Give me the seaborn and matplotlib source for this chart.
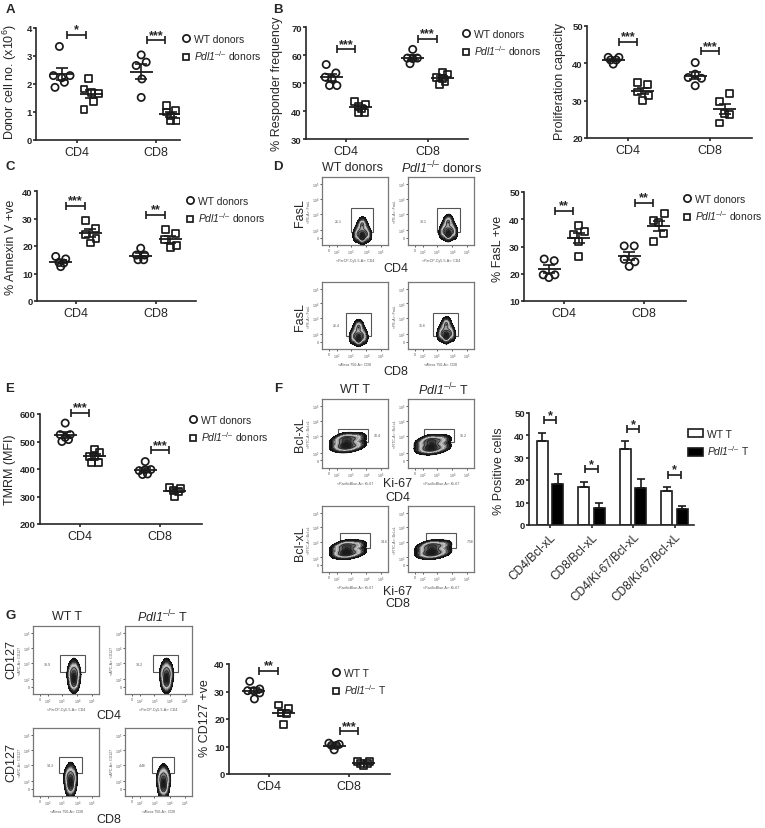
import numpy as np
import pandas as pd
import seaborn as sns
import matplotlib
matplotlib.use("Agg")
import matplotlib.pyplot as plt
from matplotlib.lines import Line2D
from matplotlib.patches import Patch, Rectangle
from matplotlib.colors import LinearSegmentedColormap

W, H = 765, 829
KO_DONORS = "$\\mathcal{Pdl1}^{\u2013/\u2013}$ donors"
KO_T = "$\\mathcal{Pdl1}^{\u2013/\u2013}$ T"

# scatter panels, values, *_DX is the sideways spread in pixels
A_WT_CD4 = [3.34, 2.3, 2.3, 2.22, 2.06, 1.88]
A_WT_CD4_DX = [-2.3, -8.3, 8.3, 0, 2.7, -6.7]
A_KO_CD4 = [2.2, 1.82, 1.7, 1.65, 1.37, 1.1]
A_KO_CD4_DX = [-3, -7.3, .3, 7, 2, -7.3]
A_WT_CD8 = [3.04, 2.78, 2.66, 2.18, 1.52]
A_WT_CD8_DX = [0, 5, -5, .7, 0]
A_KO_CD8 = [1.22, 1.04, 1.0, 0.86, 0.68, 0.68]
A_KO_CD8_DX = [-4.7, 5, -4.7, -.7, 0, 6]
B1_WT_CD4 = [56.6, 53.6, 52.1, 51.5, 49.1, 49.1]
B1_WT_CD4_DX = [-5, 4.7, -6, .7, -1.7, 5.7]
B1_KO_CD4 = [43.4, 42.5, 41.7, 41, 39.6, 39.6]
B1_KO_CD4_DX = [-6, 5, -2.7, .7, -2.7, 3.3]
B1_WT_CD8 = [62, 58.9, 58.9, 58.7, 56.9]
B1_WT_CD8_DX = [0, 4.7, -5.3, 0, -2.7]
B1_KO_CD8 = [53.9, 53.2, 52, 51.7, 50.5, 49.6]
B1_KO_CD8_DX = [0, 5, -6, 0, 2.7, -2.7]
B2_WT_CD4 = [41.6, 41.6, 40.9, 40.9, 39.8]
B2_WT_CD4_DX = [-5, 5.7, -2.7, 3, 0]
B2_KO_CD4 = [34.9, 34.3, 32.3, 31.4, 30]
B2_KO_CD4_DX = [-5, 5, -5.7, 5.3, 0]
B2_WT_CD8 = [40.2, 37.1, 36.2, 36, 34]
B2_WT_CD8_DX = [0, 0, -7, 6.3, 0]
B2_KO_CD8 = [32, 29.8, 26.5, 26.3, 24]
B2_KO_CD8_DX = [5, -5, -.7, 5, -5]
C_WT_CD4 = [16.2, 15.3, 14, 13.8, 12.5]
C_WT_CD4_DX = [-5, 5, -1.7, 3, 0]
C_KO_CD4 = [29.2, 26.4, 24.1, 22.8, 21.1]
C_KO_CD4_DX = [-4.7, 5, -5, 5.7, 0]
C_WT_CD8 = [19.2, 16.7, 16.7, 15, 15]
C_WT_CD8_DX = [0, 4, -4.3, -2.7, 3]
C_KO_CD8 = [25.9, 24.4, 22.5, 20.1, 19.5]
C_KO_CD8_DX = [-4.7, 5, -5.7, 6, 0]
D_WT_CD4 = [25.4, 24.8, 19.6, 19.6, 18.6]
D_WT_CD4_DX = [-5, 5, -6, 5.7, -.3]
D_KO_CD4 = [37.6, 35.4, 34.5, 31.7, 26.2]
D_KO_CD4_DX = [0, 5.7, -5.3, 0, 0]
D_WT_CD8 = [30.2, 30.2, 25.3, 24.4, 22.7]
D_WT_CD8_DX = [-5, 5, -5, 5.7, 0]
D_KO_CD8 = [42.2, 39.4, 38.8, 34.9, 31.7]
D_KO_CD8_DX = [5.3, -5.7, -.7, 5, -5]
E_WT_CD4 = [567, 525, 525, 515, 507, 500]
E_WT_CD4_DX = [0, -5, 5, 0, 3.3, -3.3]
E_KO_CD4 = [473, 461, 446, 446, 425, 425]
E_KO_CD4_DX = [0, 5, -5.7, 0, -3.3, 3.3]
E_WT_CD8 = [427, 398, 397, 394, 382, 380]
E_WT_CD8_DX = [0, 5.7, 0, -6, 2.3, -2.7]
E_KO_CD8 = [334, 328, 322, 318, 301]
E_KO_CD8_DX = [-5.7, 5.7, -1.7, 3.3, 0]
G_WT_CD4 = [33.7, 30.9, 30.3, 30.3, 29.5, 27.3]
G_WT_CD4_DX = [-4, 6, -6, 0, 6, .7]
G_KO_CD4 = [25.1, 23.7, 22.2, 21.9, 17.9]
G_KO_CD4_DX = [-4.7, 5, -2.3, 3.3, .3]
G_WT_CD8 = [11.2, 10.8, 10.4, 10.4, 8.8]
G_WT_CD8_DX = [-5.3, 5, -2.7, 2.3, 0]
G_KO_CD8 = [4.6, 4.6, 3.7, 3.7, 2.9]
G_KO_CD8_DX = [-6, 5.7, -3.3, 3.3, 0]

# bar panel F
F_GROUPS = ["CD4/Bcl-xL", "CD8/Bcl-xL", "CD4/Ki-67/Bcl-xL", "CD8/Ki-67/Bcl-xL"]
F_WT = [37.5, 17, 34, 15.2]
F_KO = [18.5, 7.5, 16.5, 7]
F_WT_ERR = [3.7, 2.3, 3.5, 1.8]
F_KO_ERR = [4.2, 2.1, 4, 1.7]
F_BRACKET = [46.7, 25, 42.7, 22.4]

# points that give the outline of the flow plot density clouds
FASL_X = [.53, .61, .69, .54, .68, .61, .61, .61, .57, .65, .60, .62]
FASL_Y = [.13, .10, .13, .18, .18, .13, .14, .15, .24, .24, .30, .32]
BCL_X = [.24, .24, .32, .32, .38, .38, .38, .38, .46, .46, .55, .55]
BCL_Y = [.29, .37, .28, .41, .28, .34, .34, .42, .29, .41, .32, .42]
CD127_X = [.62, .58, .66, .56, .68, .62, .62, .62, .58, .66, .62]
CD127_Y = [.12, .16, .16, .28, .28, .22, .24, .28, .36, .36, .41]

sns.set_theme(style="ticks")
plt.rcParams["font.family"] = ["Liberation Sans", "DejaVu Sans"]
plt.rcParams["mathtext.fontset"] = "custom"
plt.rcParams["mathtext.rm"] = "Liberation Sans"
plt.rcParams["mathtext.it"] = "Liberation Sans:italic"
plt.rcParams["mathtext.cal"] = "Liberation Sans:italic"
plt.rcParams["mathtext.bf"] = "Liberation Sans:bold"

fig = plt.figure(figsize=(W / 100, H / 100), dpi=100, facecolor="white")
density = LinearSegmentedColormap.from_list("dens", ["#000000", "#3a3a3a", "#cccccc", "#777777", "#3a3a3a", "#111111"])


def new_axes(l, t, r, b):
    return fig.add_axes([l / W, 1 - b / H, (r - l) / W, (b - t) / H])


def ftext(x, y, s, **kw):
    kw.setdefault("ha", "center")
    kw.setdefault("va", "center")
    kw.setdefault("fontsize", 9)
    fig.text(x / W, 1 - y / H, s, **kw)


def style_axes(ax, yticks, box, ylabel, label_xy):
    ax.set_ylim(yticks[0], yticks[-1])
    ax.set_yticks(yticks)
    sns.despine(ax=ax)
    for side in ("left", "bottom"):
        ax.spines[side].set_linewidth(1.2)
    ax.tick_params(axis="y", length=2.5, width=1.2, labelsize=6.8, pad=0.5)
    ax.tick_params(axis="x", length=2.5, width=1.2, labelsize=9, pad=1.5)
    for lab in ax.get_yticklabels():
        lab.set_fontweight("bold")
    ax.patch.set_alpha(0)
    ftext(label_xy[0], label_xy[1], ylabel, rotation=90)


def bracket(ax, x, y, half, stars):
    cont = ax.errorbar([x], [y], xerr=half, color="k", lw=1.2, capsize=2.6, capthick=1.2)
    for art in list(cont.lines[1]) + list(cont.lines[2]):
        art.set_clip_on(False)
    ax.annotate(stars, (x, y), xytext=(0, -0.5), textcoords="offset points", ha="center", va="bottom",
                fontsize=9, fontweight="bold", annotation_clip=False)


def legend(ax, cx, cy, labels):
    hs = [Line2D([], [], ls="", marker="o", ms=5.2, mfc="none", mec="k", mew=1.25),
          Line2D([], [], ls="", marker="s", ms=4.9, mfc="none", mec="k", mew=1.25)]
    ax.legend(hs, labels, loc="upper left", bbox_to_anchor=((cx - 5.1) / W, 1 - (cy - 6) / H),
              bbox_transform=fig.transFigure, frameon=False, fontsize=7.5, borderpad=0, borderaxespad=0,
              handlelength=1, handletextpad=0.28, labelspacing=0.42)


def scatter_panel(box, c0, sp, yticks, groups, brackets, ylabel, label_xy, legend_xy=None, labels=None):
    l, t, r, b = box
    ax = new_axes(*box)
    off = 14.8 / sp
    rows = []
    for i, (wt, wt_dx, ko, ko_dx) in enumerate(groups):
        rows += [dict(pos=i - off, dx=d / sp, geno="WT", value=v) for v, d in zip(wt, wt_dx)]
        rows += [dict(pos=i + off, dx=d / sp, geno="KO", value=v) for v, d in zip(ko, ko_dx)]
    df = pd.DataFrame(rows)
    df["x"] = df.pos + df.dx
    for geno, marker, area in (("WT", "o", 27), ("KO", "s", 24)):
        sns.scatterplot(data=df[df.geno == geno], x="x", y="value", marker=marker, s=area, color="k",
                        edgecolor="k", linewidth=1.25, legend=False, ax=ax)
        ax.collections[-1].set_facecolor("none")
    # mean and sem from the same values
    stats = df.groupby("pos").value.agg(["mean", "sem"])
    mean_half = 11.5 / sp
    ax.hlines(stats["mean"], stats.index - mean_half, stats.index + mean_half, color="k", lw=1.3, zorder=4)
    ax.errorbar(stats.index, stats["mean"], yerr=stats["sem"], fmt="none", ecolor="k", elinewidth=1.2,
                capsize=6 / 1.39, capthick=1.2, zorder=4)
    ax.set_xlim((l - c0) / sp, (r - c0) / sp)
    ax.set_xticks([0, 1], ["CD4", "CD8"])
    ax.set_xlabel("")
    ax.set_ylabel("")
    style_axes(ax, yticks, box, ylabel, label_xy)
    for i, (y, stars) in enumerate(brackets):
        bracket(ax, i, y, 9.2 / sp, stars)
    if labels:
        legend(ax, legend_xy[0], legend_xy[1], labels)
    return ax


scatter_panel((36, 29, 180, 141), 76.5, 79.5, [0, 1, 2, 3, 4],
              [(A_WT_CD4, A_WT_CD4_DX, A_KO_CD4, A_KO_CD4_DX), (A_WT_CD8, A_WT_CD8_DX, A_KO_CD8, A_KO_CD8_DX)],
              [(3.76, "*"), (3.56, "***")],
              r"Donor cell no. (x10$^{6}$)", (10, 82), (186, 41), ["WT donors", KO_DONORS])
scatter_panel((306, 28, 468, 140), 346, 81.5, [30, 40, 50, 60, 70],
              [(B1_WT_CD4, B1_WT_CD4_DX, B1_KO_CD4, B1_KO_CD4_DX), (B1_WT_CD8, B1_WT_CD8_DX, B1_KO_CD8, B1_KO_CD8_DX)],
              [(62, "***"), (65.8, "***")],
              "% Responder frequency", (277, 84), (466, 36), ["WT donors", KO_DONORS])
scatter_panel((587, 27, 752, 139), 628, 82, [20, 30, 40, 50],
              [(B2_WT_CD4, B2_WT_CD4_DX, B2_KO_CD4, B2_KO_CD4_DX), (B2_WT_CD8, B2_WT_CD8_DX, B2_KO_CD8, B2_KO_CD8_DX)],
              [(45.8, "***"), (43.2, "***")],
              "Proliferation capacity", (560, 82))
scatter_panel((37, 192, 196, 302), 75.5, 80, [0, 10, 20, 30, 40],
              [(C_WT_CD4, C_WT_CD4_DX, C_KO_CD4, C_KO_CD4_DX), (C_WT_CD8, C_WT_CD8_DX, C_KO_CD8, C_KO_CD8_DX)],
              [(34.7, "***"), (31.3, "**")],
              "% Annexin V +ve", (11, 247), (190, 203), ["WT donors", KO_DONORS])
scatter_panel((524, 193, 686, 302), 564, 80, [10, 20, 30, 40, 50],
              [(D_WT_CD4, D_WT_CD4_DX, D_KO_CD4, D_KO_CD4_DX), (D_WT_CD8, D_WT_CD8_DX, D_KO_CD8, D_KO_CD8_DX)],
              [(43.2, "**"), (46.1, "**")],
              "% FasL +ve", (498, 249), (687, 201), ["WT donors", KO_DONORS])
scatter_panel((40, 415, 202, 525), 80, 80, [200, 300, 400, 500, 600],
              [(E_WT_CD4, E_WT_CD4_DX, E_KO_CD4, E_KO_CD4_DX), (E_WT_CD8, E_WT_CD8_DX, E_KO_CD8, E_KO_CD8_DX)],
              [(604, "***"), (469, "***")],
              "TMRM (MFI)", (10, 470), (193, 422), ["WT donors", KO_DONORS])
scatter_panel((229, 665, 390, 775), 268.5, 80.5, [0, 10, 20, 30, 40],
              [(G_WT_CD4, G_WT_CD4_DX, G_KO_CD4, G_KO_CD4_DX), (G_WT_CD8, G_WT_CD8_DX, G_KO_CD8, G_KO_CD8_DX)],
              [(37.6, "**"), (15.6, "***")],
              "% CD127 +ve", (205, 718), (336, 675), ["WT T", KO_T])

# panel F bars
f_box = (529, 414, 694, 526)
ax = new_axes(*f_box)
f_df = pd.DataFrame({"group": F_GROUPS * 2, "geno": ["WT"] * 4 + ["KO"] * 4, "value": F_WT + F_KO})
sns.barplot(data=f_df, x="group", y="value", hue="geno", palette={"WT": "white", "KO": "black"},
            edgecolor="k", linewidth=1.2, width=0.74, gap=0.27, errorbar=None, legend=False, ax=ax)
for cont, errs in zip(ax.containers, (F_WT_ERR, F_KO_ERR)):
    xs = [p.get_x() + p.get_width() / 2 for p in cont]
    hs = [p.get_height() for p in cont]
    ax.errorbar(xs, hs, yerr=[[0] * 4, errs], fmt="none", ecolor="k", elinewidth=1.2, capsize=2.6, capthick=1.2)
ax.set_xlim((529 - 550) / 41.5, (694 - 550) / 41.5)
ax.set_xlabel("")
ax.set_ylabel("")
style_axes(ax, [0, 10, 20, 30, 40, 50], f_box, "% Positive cells", (499, 471))
ax.set_xticks(range(4))
ax.set_xticklabels(F_GROUPS, rotation=45, ha="right", rotation_mode="anchor", fontsize=8.6)
for i, y in enumerate(F_BRACKET):
    bracket(ax, i, y, 6.2 / 41.5, "*")
ax.legend([Patch(fc="white", ec="k", lw=1.2), Patch(fc="black", ec="k", lw=1.2)], ["WT T", KO_T],
          loc="upper left", bbox_to_anchor=(688 / W, 1 - 430 / H), bbox_transform=fig.transFigure, frameon=False,
          fontsize=7.5, borderpad=0, borderaxespad=0, handlelength=1.4, handleheight=0.8, handletextpad=0.4,
          labelspacing=0.42)


def flow_panel(box, shape_x, shape_y, dx, dy, gate, value, value_xy, xlab, ylab):
    ax = new_axes(*box)
    xs = np.array(shape_x) + dx
    ys = np.array(shape_y) + dy
    ax.add_patch(Rectangle((gate[0], gate[2]), gate[1] - gate[0], gate[3] - gate[2], fc="none", ec="#555555", lw=0.8))
    sns.kdeplot(x=xs, y=ys, fill=True, cmap=density, levels=16, thresh=0.03, bw_adjust=1, gridsize=150, ax=ax, zorder=3)
    sns.kdeplot(x=xs, y=ys, color="k", levels=[.03, .05, .5, .7, .85], linewidths=0.5, bw_adjust=1, gridsize=150, ax=ax, zorder=4)
    ax.set_xlim(0, 1)
    ax.set_ylim(0, 1)
    for spine in ax.spines.values():
        spine.set_color("#777777")
        spine.set_linewidth(0.9)
    ax.set_xticks([.11, .22, .44, .67, .89], ["0", "10$^{2}$", "10$^{3}$", "10$^{4}$", "10$^{5}$"])
    ax.set_yticks([.11, .22, .46, .68, .90], ["0", "10$^{2}$", "10$^{3}$", "10$^{4}$", "10$^{5}$"])
    ax.tick_params(length=1.5, width=0.5, labelsize=2.6, pad=0.6, color="k", labelcolor="#555555")
    ax.set_xlabel(xlab, fontsize=2.6, color="#555555", labelpad=0.6)
    ax.set_ylabel(ylab, fontsize=2.6, color="#555555", labelpad=0.6)
    ax.text(value_xy[0], value_xy[1], value, fontsize=2.6, color="#555555", ha="center", va="center")


PE = "<PE-A>: FasL"
CY = "<PerCP-Cy5-5-A>: CD4"
A7 = "<Alexa 750-A>: CD8"
FI = "<FITC-A>: Bcl-xL"
PB = "<PacificBlue-A>: Ki-67"
AP = "<APC-A>: CD127"
# panel D plots
flow_panel((322, 178, 388, 246), FASL_X, FASL_Y, 0, 0, (.434, .78, .187, .54), "21.1", (.24, .36), CY, PE)
flow_panel((408, 178, 474, 246), FASL_X, FASL_Y, 0, .04, (.444, .79, .187, .54), "38.1", (.24, .36), CY, PE)
flow_panel((322, 283, 388, 350), FASL_X, FASL_Y, -.055, .03, (.37, .74, .2, .535), "26.4", (.22, .36), A7, PE)
flow_panel((408, 283, 474, 350), FASL_X, FASL_Y, -.03, .07, (.38, .75, .2, .535), "35.6", (.22, .36), A7, PE)
# panel F plots
flow_panel((322, 400, 388, 469), BCL_X, BCL_Y, 0, .02, (.24, .70, .37, .565), "10.4", (.84, .48), PB, FI)
flow_panel((408, 400, 474, 469), BCL_X, BCL_Y, -.02, -.01, (.24, .70, .37, .565), "15.2", (.84, .48), PB, FI)
flow_panel((322, 507, 388, 573), BCL_X, BCL_Y, 0, -.01, (.28, .72, .37, .59), "14.6", (.95, .47), PB, FI)
flow_panel((408, 507, 474, 573), BCL_X, BCL_Y, -.01, -.01, (.28, .72, .37, .59), "7.56", (.95, .47), PB, FI)
# panel G plots
flow_panel((33, 627, 99, 695), CD127_X, CD127_Y, 0, 0, (.41, .79, .32, .58), "33.9", (.22, .44), CY, AP)
flow_panel((125, 627, 192, 695), CD127_X, CD127_Y, 0, 0, (.415, .785, .32, .58), "33.2", (.22, .44), CY, AP)
flow_panel((33, 729, 99, 797), CD127_X, CD127_Y, -.05, -.03, (.40, .735, .337, .58), "14.3", (.26, .45), A7, AP)
flow_panel((125, 729, 192, 797), CD127_X, CD127_Y, -.045, -.05, (.40, .73, .337, .58), "4.46", (.26, .45), A7, AP)

for x, y, s in [(10, 10, "A"), (278, 10, "B"), (10, 167, "C"), (278, 167, "D"), (10, 389, "E"), (278, 389, "F"), (11, 616, "G")]:
    ftext(x, y, s, fontsize=9.5, fontweight="bold")

for x, y, s in [(353, 168, "WT donors"), (441, 168, KO_DONORS), (355, 390, "WT T"), (443, 390, KO_T),
                (67, 617, "WT T"), (162, 617, KO_T), (396, 269, "CD4"), (396, 372, "CD8"),
                (398, 484, "Ki-67"), (398, 498, "CD4"), (398, 592, "Ki-67"), (398, 604, "CD8"),
                (109, 716, "CD4"), (109, 820, "CD8")]:
    ftext(x, y, s)
for x, y, s in [(300, 213, "FasL"), (300, 317, "FasL"), (300, 435, "Bcl-xL"), (300, 544, "Bcl-xL"),
                (11, 660, "CD127"), (11, 763, "CD127")]:
    ftext(x, y, s, rotation=90)

fig.savefig("out.png", dpi=100)
